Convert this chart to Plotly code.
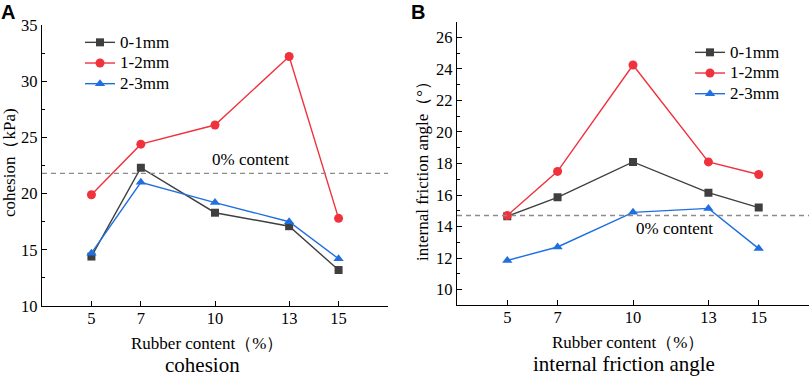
import plotly.graph_objects as go

# ---------------- data ----------------
rubber_content = [5, 7, 10, 13, 15]
series_names = ["0-1mm", "1-2mm", "2-3mm"]

cohesion_0_1 = [14.4, 22.3, 18.3, 17.1, 13.2]
cohesion_1_2 = [19.9, 24.4, 26.1, 32.2, 17.8]
cohesion_2_3 = [14.7, 21.0, 19.2, 17.5, 14.2]
cohesion_baseline = 21.8

friction_0_1 = [14.65, 15.85, 18.1, 16.15, 15.2]
friction_1_2 = [14.7, 17.5, 24.25, 18.1, 17.3]
friction_2_3 = [11.85, 12.7, 14.9, 15.15, 12.6]
friction_baseline = 14.7

x_ticks = [5, 7, 10, 13, 15]
cohesion_ticks = [10, 15, 20, 25, 30, 35]
friction_ticks = [10, 12, 14, 16, 18, 20, 22, 24, 26]

# ---------------- style ----------------
W, H = 809, 377
colors = ["#3f3f3f", "#f0323c", "#1f6fe0"]
symbols = ["square", "circle", "triangle-up"]
msizes = [8, 9, 9]
SERIF = "Liberation Serif"
SANS = "Liberation Sans"


def px(xp):
    return xp / W


def py(yp):
    return 1 - yp / H


def legend_label(name):
    return '<span style="font-size:17px">' + name + "</span>"


fig = go.Figure()

cohesion_sets = [cohesion_0_1, cohesion_1_2, cohesion_2_3]
friction_sets = [friction_0_1, friction_1_2, friction_2_3]

for i, (name, vals) in enumerate(zip(series_names, cohesion_sets)):
    fig.add_trace(go.Scatter(
        x=rubber_content, y=vals, name=legend_label(name), mode="lines+markers",
        line=dict(color=colors[i], width=1.4),
        marker=dict(symbol=symbols[i], size=msizes[i], color=colors[i]),
        xaxis="x", yaxis="y", legend="legend"))

for i, (name, vals) in enumerate(zip(series_names, friction_sets)):
    fig.add_trace(go.Scatter(
        x=rubber_content, y=vals, name=legend_label(name), mode="lines+markers",
        line=dict(color=colors[i], width=1.4),
        marker=dict(symbol=symbols[i], size=msizes[i], color=colors[i]),
        xaxis="x2", yaxis="y2", legend="legend2"))

# baselines
fig.add_shape(type="line", xref="x domain", yref="y", x0=0, x1=1,
              y0=cohesion_baseline, y1=cohesion_baseline,
              line=dict(color="#8c8c8c", width=1.3, dash="5px,4px"))
fig.add_shape(type="line", xref="x2 domain", yref="y2", x0=0, x1=1,
              y0=friction_baseline, y1=friction_baseline,
              line=dict(color="#8c8c8c", width=1.3, dash="5px,4px"))

axis_common = dict(showline=True, linecolor="black", linewidth=1.3,
                   ticks="inside", ticklen=5, tickwidth=1.2, tickcolor="black",
                   showgrid=False, zeroline=False, automargin=False,
                   tickfont=dict(family=SERIF, size=16.5, color="black"))

fig.update_layout(
    template="none",
    width=W, height=H,
    margin=dict(l=0, r=0, t=0, b=0, autoexpand=False),
    paper_bgcolor="white", plot_bgcolor="white",
    font=dict(family=SERIF, color="black"),
    xaxis=dict(domain=[px(42), px(388)], range=[3, 17], anchor="y",
               tickvals=x_ticks, ticklabelstandoff=-3, **axis_common),
    yaxis=dict(domain=[py(306), py(25)], range=[10, 35], anchor="x",
               tickvals=cohesion_ticks,
               minor=dict(ticks="inside", ticklen=3, dtick=2.5, tick0=10,
                          tickcolor="black", tickwidth=1),
               **axis_common),
    xaxis2=dict(domain=[px(457), 1.0], range=[3, 17], anchor="y2",
                tickvals=x_ticks, ticklabelstandoff=-3, **axis_common),
    yaxis2=dict(domain=[py(305.3), py(21.7)], range=[9, 27], anchor="x2",
                tickvals=friction_ticks,
                minor=dict(ticks="inside", ticklen=3, dtick=1, tick0=9,
                           tickcolor="black", tickwidth=1),
                **axis_common),
    legend=dict(x=px(80), y=py(27), xanchor="left", yanchor="top",
                bgcolor="rgba(0,0,0,0)", font=dict(family=SERIF, size=13.6),
                tracegroupgap=0),
    legend2=dict(x=px(690), y=py(37), xanchor="left", yanchor="top",
                 bgcolor="rgba(0,0,0,0)", font=dict(family=SERIF, size=13.6),
                 tracegroupgap=0),
    showlegend=True,
)

ann = []


def paper_text(text, xp, yp, size, family=SERIF, angle=0, xa="center", ya="middle"):
    ann.append(dict(text=text, x=px(xp), y=py(yp), xref="paper", yref="paper",
                    xanchor=xa, yanchor=ya, textangle=angle, showarrow=False,
                    borderpad=0,
                    font=dict(family=family, size=size, color="black")))


# panel labels
paper_text("<b>A</b>", 0, 0, 20, family=SANS, xa="left", ya="top")
paper_text("<b>B</b>", 410, 0, 20, family=SANS, xa="left", ya="top")
# y titles
paper_text("cohesion（kPa)", 10, 163, 17, angle=-90)
paper_text("internal friction angle（°）", 422, 167, 17, angle=-90)
# x titles
paper_text("Rubber content（%）", 207, 343, 17)
paper_text("Rubber content（%）", 628, 342, 17)
# panel captions
paper_text("cohesion", 202, 364.5, 21)
paper_text("internal friction angle", 624, 363.5, 21)

# baseline labels
ann.append(dict(text="0% content", x=11.43, y=23.0, xref="x", yref="y",
                showarrow=False, font=dict(family=SERIF, size=17)))
ann.append(dict(text="0% content", x=11.66, y=13.86, xref="x2", yref="y2",
                showarrow=False, font=dict(family=SERIF, size=17)))
fig.update_layout(annotations=ann)

fig.write_html("out.html", config={"displayModeBar": False},
               post_script="document.body.style.margin='0';document.body.style.padding='0';")
